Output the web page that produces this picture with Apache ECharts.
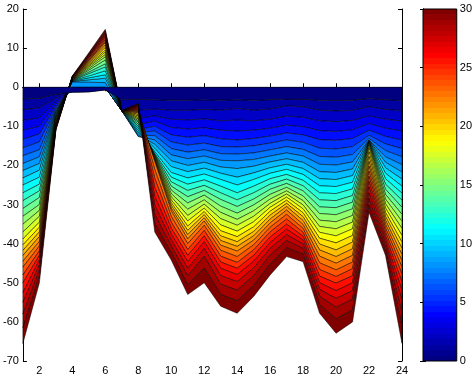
<!DOCTYPE html>
<html>
<head>
<meta charset="utf-8">
<script src="https://cdn.jsdelivr.net/npm/echarts@6/dist/echarts.min.js"></script>
<style>
  html, body { margin: 0; padding: 0; background: #fff; }
  #chart { width: 475px; height: 376px; }
</style>
</head>
<body>
<div id="chart"></div>
<script>
// x positions and tick labels
const xValues = [1, 2, 3, 4, 5, 6, 7, 8, 9, 10, 11, 12, 13, 14, 15, 16, 17, 18, 19, 20, 21, 22, 23, 24];
const xTickValues = [2, 4, 6, 8, 10, 12, 14, 16, 18, 20, 22, 24];
const colorbarRange = [0, 30];

// level curves c1..c30 read at each x (top band lies between 0 and c1)
const col01 = [-3.0, -5.8, -8.5, -11.0, -13.3, -15.5, -17.5, -19.5, -21.3, -23.2, -25.0, -27.0, -29.0, -31.0, -33.0, -35.0, -37.0, -38.8, -40.3, -41.7, -43.0, -44.5, -46.0, -48.0, -50.0, -52.5, -55.0, -58.0, -61.5, -65.5];
const col02 = [-2.8, -5.3, -7.8, -10.0, -12.0, -14.0, -16.0, -17.8, -19.5, -21.2, -23.0, -24.8, -26.5, -28.2, -30.0, -31.5, -33.0, -34.5, -35.8, -37.0, -38.2, -39.4, -40.6, -41.8, -43.0, -44.2, -45.4, -46.7, -48.3, -50.0];
const col03 = [-1.8, -2.8, -3.6, -4.3, -4.9, -5.4, -5.8, -6.2, -6.5, -6.8, -7.1, -7.4, -7.6, -7.8, -8.0, -8.2, -8.4, -8.6, -8.8, -9.0, -9.2, -9.4, -9.6, -9.8, -10.0, -10.2, -10.4, -10.6, -10.8, -11.0];
const col04 = [-1.3, 0, 0, 0, 0, 0, 0, 0, 1.4, 1.5, 1.6, 1.7, 1.75, 1.8, 1.85, 1.9, 1.95, 2.0, 2.05, 2.1, 2.15, 2.2, 2.3, 2.4, 2.5, 2.6, 2.7, 2.75, 2.8, 2.9];
const col05 = [-1.2, 0, 0, 0, 0, 0, 0, 0, 1.3, 1.9, 2.4, 2.9, 3.5, 3.9, 4.4, 4.8, 5.2, 5.5, 5.8, 6.1, 6.5, 6.8, 7.0, 7.3, 7.6, 7.8, 8.1, 8.3, 8.5, 8.8];
const col06 = [-0.7, 0, 0, 0, 0, 0, 0, 0, 1.2, 2.3, 3.2, 4.2, 5.2, 6.0, 7.0, 7.8, 8.4, 9.0, 9.5, 10.2, 10.8, 11.4, 11.8, 12.2, 12.7, 13.1, 13.5, 13.9, 14.3, 14.8];
const col07 = [-3.2, -5.8, -6.0, -6.0, -6.0, -6.0, -6.0, -6.0, -6.0, -6.0, -6.0, -6.0, -6.0, -6.0, -6.0, -6.0, -6.0, -6.0, -6.0, -6.0, -6.0, -6.0, -6.0, -6.0, -6.0, -6.0, -6.0, -6.0, -6.0, -6.0];
const col08 = [-3.1, -5.9, -8.0, -9.6, -10.8, -11.6, -12.2, -12.6, -12.2, -11.6, -11.0, -10.4, -9.9, -9.4, -8.9, -8.5, -8.1, -7.7, -7.3, -6.9, -6.5, -6.2, -5.9, -5.6, -5.3, -5.0, -4.7, -4.5, -4.3, -4.1];
const col09 = [-3.2, -5.6, -7.3, -8.7, -10.0, -11.2, -12.4, -13.5, -14.6, -15.6, -16.5, -17.0, -17.2, -17.4, -17.6, -17.8, -18.0, -18.2, -18.4, -18.6, -18.8, -19.0, -21.0, -23.3, -25.6, -27.9, -30.2, -32.5, -34.8, -37.0];
const col10 = [-3.3, -5.9, -8.2, -10.3, -12.2, -14.0, -15.7, -17.3, -18.8, -20.3, -21.8, -23.0, -24.2, -25.3, -26.3, -27.2, -28.0, -28.8, -29.5, -30.2, -30.9, -31.6, -33.0, -34.5, -36.0, -37.5, -39.0, -40.6, -42.3, -44.2];
const col11 = [-3.3, -5.9, -8.4, -10.7, -12.8, -14.8, -16.6, -18.3, -20.0, -21.6, -23.2, -24.8, -26.4, -28.0, -29.6, -31.2, -32.8, -34.2, -35.5, -36.6, -37.7, -38.8, -40.0, -41.5, -43.0, -44.6, -46.3, -48.2, -50.5, -53.0];
const col12 = [-3.2, -5.7, -8.1, -10.4, -12.4, -14.3, -16.0, -17.6, -19.2, -20.7, -22.2, -23.7, -25.1, -26.4, -27.6, -28.8, -29.9, -30.9, -31.8, -32.6, -33.4, -34.2, -35.3, -36.6, -38.0, -39.5, -41.2, -43.2, -46.2, -50.0];
const col13 = [-3.3, -5.9, -8.6, -11.0, -13.2, -15.2, -17.0, -18.7, -20.4, -22.0, -23.6, -25.3, -27.0, -28.7, -30.4, -32.0, -33.6, -35.2, -36.7, -38.0, -39.2, -40.4, -41.7, -43.2, -44.7, -46.3, -48.2, -50.4, -53.0, -56.0];
const col14 = [-3.2, -5.4, -8.4, -11.2, -13.5, -15.3, -17.1, -18.8, -20.8, -23.0, -25.0, -27.0, -28.8, -30.5, -32.2, -33.8, -35.3, -36.8, -38.2, -39.5, -40.7, -41.9, -43.3, -44.8, -46.3, -47.9, -49.7, -51.9, -54.6, -57.8];
const col15 = [-3.3, -5.9, -8.6, -11.0, -13.1, -15.0, -16.8, -18.5, -20.2, -21.9, -23.6, -25.3, -27.0, -28.6, -30.1, -31.6, -33.0, -34.4, -35.7, -36.9, -38.0, -39.1, -40.3, -41.6, -43.0, -44.5, -46.2, -48.2, -50.7, -53.5];
const col16 = [-3.2, -5.6, -8.2, -10.5, -12.5, -14.3, -16.0, -17.6, -19.1, -20.6, -22.0, -23.4, -24.8, -26.1, -27.4, -28.6, -29.7, -30.7, -31.7, -32.7, -33.7, -34.7, -35.8, -37.0, -38.3, -39.7, -41.2, -42.9, -45.2, -48.0];
const col17 = [-3.0, -4.8, -7.4, -9.7, -11.7, -13.5, -15.2, -16.8, -18.3, -19.7, -21.0, -22.3, -23.5, -24.6, -25.6, -26.5, -27.3, -28.1, -28.9, -29.7, -30.5, -31.4, -32.5, -33.7, -35.0, -36.3, -37.7, -39.2, -41.0, -43.3];
const col18 = [-3.1, -5.0, -7.7, -10.1, -12.2, -14.1, -15.9, -17.6, -19.2, -20.8, -22.3, -23.8, -25.2, -26.5, -27.8, -29.0, -30.1, -31.1, -32.1, -33.1, -34.1, -35.1, -36.1, -37.1, -38.1, -39.1, -40.1, -41.2, -42.7, -44.6];
const col19 = [-3.3, -5.9, -8.6, -11.1, -13.4, -15.6, -17.7, -19.7, -21.6, -23.4, -25.2, -27.0, -28.8, -30.6, -32.3, -34.0, -35.6, -37.1, -38.6, -40.1, -41.6, -43.2, -44.9, -46.6, -48.3, -50.0, -51.7, -53.5, -55.6, -57.8];
const col20 = [-3.4, -6.1, -8.8, -11.3, -13.6, -15.8, -17.9, -19.9, -21.8, -23.6, -25.4, -27.2, -29.0, -30.8, -32.6, -34.4, -36.2, -38.0, -39.8, -41.6, -43.3, -45.0, -46.7, -48.4, -50.1, -52.0, -54.0, -56.3, -59.2, -62.9];
const col21 = [-3.3, -5.9, -8.5, -10.9, -13.1, -15.2, -17.2, -19.1, -20.9, -22.6, -24.3, -26.0, -27.7, -29.4, -31.1, -32.8, -34.5, -36.2, -37.9, -39.6, -41.3, -43.0, -44.7, -46.4, -48.2, -50.0, -52.0, -54.2, -57.0, -60.0];
const col22 = [-2.9, -5.0, -7.3, -9.3, -11.0, -12.3, -13.1, -13.5, -13.6, -13.7, -13.8, -13.9, -14.0, -14.1, -14.2, -14.4, -14.8, -15.5, -16.5, -17.7, -19.0, -20.2, -21.5, -22.8, -24.1, -25.5, -27.0, -28.5, -30.2, -32.0];
const col23 = [-3.2, -5.7, -8.2, -10.5, -12.6, -14.5, -16.2, -17.8, -19.2, -20.6, -22.0, -23.4, -24.8, -26.1, -27.4, -28.6, -29.8, -30.9, -32.0, -33.0, -34.0, -35.0, -36.0, -37.0, -38.0, -39.0, -40.0, -41.0, -42.0, -43.0];
const col24 = [-3.3, -6.0, -8.7, -11.2, -13.5, -15.7, -17.8, -19.8, -21.7, -23.5, -25.3, -27.1, -28.9, -30.7, -32.5, -34.3, -36.1, -37.9, -39.6, -41.2, -42.8, -44.4, -46.0, -47.8, -49.8, -52.0, -54.5, -57.5, -61.0, -65.5];

const columns = [col01, col02, col03, col04, col05, col06, col07, col08, col09, col10, col11, col12,
  col13, col14, col15, col16, col17, col18, col19, col20, col21, col22, col23, col24];
const bandCount = 30;

// matlab-like jet colormap, v in [0, 1]
function jet(v) {
  const c = (t) => Math.round(255 * Math.max(0, Math.min(1, t)));
  const r = c(Math.min(4 * v - 1.5, -4 * v + 4.5));
  const g = c(Math.min(4 * v - 0.5, -4 * v + 3.5));
  const b = c(Math.min(4 * v + 0.5, -4 * v + 2.5));
  return "rgb(" + r + "," + g + "," + b + ")";
}

// curve 0 is the zero baseline
function curve(k) {
  return columns.map((col) => (k === 0 ? 0 : col[k - 1]));
}

// bands 2..30 painted in order, the top band last
const bandOrder = [];
for (let k = 2; k <= bandCount; k++) bandOrder.push(k);
bandOrder.push(1);

const colorbarStops = [];
for (let i = 0; i < 64; i++) {
  const col = jet(i / 63);
  colorbarStops.push({ offset: i / 64, color: col });
  colorbarStops.push({ offset: (i + 1) / 64, color: col });
}

const labelFont = { color: "#000", fontSize: 11, fontFamily: "Liberation Sans, Arial, Helvetica, sans-serif" };
const blackLine = { show: true, lineStyle: { color: "#000", width: 1 } };

const chart = echarts.init(document.getElementById("chart"), null, { renderer: "canvas" });

const option = {
  animation: false,
  backgroundColor: "#fff",
  grid: [
    { left: 20, right: 73, top: 9, bottom: 15 },
    { left: 423, width: 34, top: 9, bottom: 15 },
  ],
  xAxis: [
    {
      type: "value", gridIndex: 0, min: 1, max: 24, position: "bottom",
      axisLine: blackLine,
      axisTick: { inside: true, length: 4, customValues: xTickValues, lineStyle: { color: "#000" } },
      axisLabel: Object.assign({ margin: 4, customValues: xTickValues }, labelFont),
      splitLine: { show: false },
    },
    {
      type: "value", gridIndex: 0, min: 1, max: 24, position: "top",
      axisLine: blackLine,
      axisTick: { inside: true, length: 4, customValues: xTickValues, lineStyle: { color: "#000" } },
      axisLabel: { show: false },
      splitLine: { show: false },
    },
    {
      type: "value", gridIndex: 1, min: 0, max: 1, show: false,
    },
  ],
  yAxis: [
    {
      type: "value", gridIndex: 0, min: -70, max: 20, interval: 10, position: "left",
      axisLine: blackLine,
      axisTick: { inside: true, length: 4, lineStyle: { color: "#000" } },
      axisLabel: Object.assign({ margin: 4 }, labelFont),
      splitLine: { show: false },
    },
    {
      type: "value", gridIndex: 0, min: -70, max: 20, interval: 10, position: "right",
      axisLine: blackLine,
      axisTick: { inside: true, length: 4, lineStyle: { color: "#000" } },
      axisLabel: { show: false },
      splitLine: { show: false },
    },
    {
      type: "value", gridIndex: 1, min: colorbarRange[0], max: colorbarRange[1], interval: 5, position: "right",
      axisLine: blackLine,
      axisTick: { inside: true, length: 3, lineStyle: { color: "#000" } },
      axisLabel: Object.assign({ margin: 3 }, labelFont),
      splitLine: { show: false },
    },
    {
      type: "value", gridIndex: 1, min: colorbarRange[0], max: colorbarRange[1], interval: 5, position: "left",
      axisLine: blackLine,
      axisTick: { inside: true, length: 3, lineStyle: { color: "#000" } },
      axisLabel: { show: false },
      splitLine: { show: false },
    },
  ],
  series: [
    {
      type: "custom",
      name: "levels",
      xAxisIndex: 0,
      yAxisIndex: 0,
      data: bandOrder.map((k) => [k]),
      renderItem: function (params, api) {
        const k = api.value(0);
        const upper = curve(k - 1);
        const lower = curve(k);
        const pts = [];
        for (let i = 0; i < xValues.length; i++) pts.push(api.coord([xValues[i], upper[i]]));
        for (let i = xValues.length - 1; i >= 0; i--) pts.push(api.coord([xValues[i], lower[i]]));
        return {
          type: "polygon",
          z2: params.dataIndex,
          shape: { points: pts },
          style: { fill: jet((k - 1) / (bandCount - 1)), stroke: "#000", lineWidth: 0.5 },
        };
      },
    },
    {
      type: "custom",
      name: "colorbar",
      xAxisIndex: 2,
      yAxisIndex: 2,
      data: [colorbarRange],
      renderItem: function (params, api) {
        const p0 = api.coord([0, api.value(0)]);
        const p1 = api.coord([1, api.value(1)]);
        return {
          type: "rect",
          shape: { x: p0[0], y: p1[1], width: p1[0] - p0[0], height: p0[1] - p1[1] },
          style: {
            fill: new echarts.graphic.LinearGradient(0, 1, 0, 0, colorbarStops),
            stroke: "#000",
            lineWidth: 1,
          },
        };
      },
    },
  ],
};

chart.setOption(option);
</script>
</body>
</html>
